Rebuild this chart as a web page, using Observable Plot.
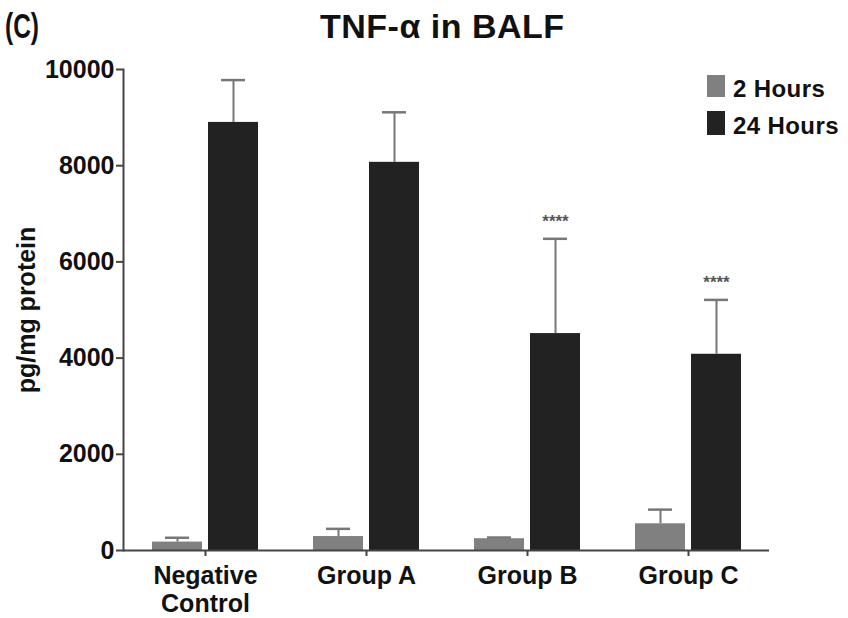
<!DOCTYPE html>
<html>
<head>
<meta charset="utf-8">
<script src="https://cdn.jsdelivr.net/npm/d3@7"></script>
<script src="https://cdn.jsdelivr.net/npm/@observablehq/plot@0.6"></script>
<style>
  html, body { margin: 0; padding: 0; background: #fff; }
  #wrap { position: relative; width: 848px; height: 618px; font-family: "Liberation Sans", Arial, sans-serif; font-weight: bold; color: #111; overflow: hidden; }
  #head { position: relative; height: 55px; }
  .abs { position: absolute; white-space: nowrap; }
  #panel { left: 5px; top: 8px; font-size: 35px; line-height: 35px; transform: scaleX(0.7); transform-origin: left top; }
  #title { left: 320px; top: 9px; font-size: 34px; line-height: 34px; letter-spacing: 0.5px; }
  .sw { position: absolute; width: 18px; }
  .lg { font-size: 24px; line-height: 24px; letter-spacing: 0.4px; }
</style>
</head>
<body>
<div id="wrap">
  <div id="head">
    <div id="panel" class="abs">(C)</div>
    <div id="title" class="abs">TNF-α in BALF</div>
  </div>
  <div id="chart"></div>
  <div class="sw" style="left:707px; top:75px; height:22px; background:#808080;"></div>
  <div class="abs lg" style="left:733px; top:77px;">2 Hours</div>
  <div class="sw" style="left:707px; top:111px; height:24px; background:#222;"></div>
  <div class="abs lg" style="left:733px; top:114px;">24 Hours</div>
</div>
<script>
const categories = ["Negative\nControl", "Group A", "Group B", "Group C"];
const hours2 = [175, 290, 245, 555];
const hours2Err = [90, 160, 25, 295];
const hours24 = [8900, 8070, 4510, 4080];
const hours24Err = [880, 1040, 1970, 1130];
const significance = ["", "", "****", "****"];
const yTicks = [0, 2000, 4000, 6000, 8000, 10000];

const rows = categories.map((c, i) => ({
  cat: c,
  h2: hours2[i], h2top: hours2[i] + hours2Err[i],
  h24: hours24[i], h24top: hours24[i] + hours24Err[i],
  sig: significance[i]
}));

const chart = Plot.plot({
  width: 848,
  height: 563,
  marginLeft: 123,
  marginRight: 79,
  marginTop: 14,
  marginBottom: 68,
  style: {fontFamily: "'Liberation Sans', Arial, sans-serif", fontWeight: "bold", fontSize: "25px", color: "#111", background: "#fff", overflow: "visible"},
  x: {domain: categories, paddingInner: 0.344, paddingOuter: 0.172, label: null},
  y: {domain: [0, 10000], label: null},
  marks: [
    Plot.barY(rows, {x: "cat", y: "h2", fill: "#808080", insetRight: 56}),
    Plot.barY(rows, {x: "cat", y: "h24", fill: "#222222", insetLeft: 56}),
    Plot.ruleX(rows, {x: "cat", y1: "h2", y2: "h2top", dx: -28, stroke: "#777", strokeWidth: 2}),
    Plot.tickY(rows, {x: "cat", y: "h2top", insetLeft: 13, insetRight: 69, stroke: "#777", strokeWidth: 2.5}),
    Plot.ruleX(rows, {x: "cat", y1: "h24", y2: "h24top", dx: 28, stroke: "#777", strokeWidth: 2}),
    Plot.tickY(rows, {x: "cat", y: "h24top", insetLeft: 69, insetRight: 13, stroke: "#777", strokeWidth: 2.5}),
    Plot.text(rows.filter(d => d.sig), {x: "cat", y: "h24top", text: "sig", dx: 28, dy: -17, fontSize: 17, fill: "#555", fontWeight: "bold"}),
    Plot.axisY({ticks: yTicks, tickFormat: d => String(d), tickSize: 7, tickPadding: 2, stroke: "#444", strokeWidth: 2,
      label: "pg/mg protein", labelAnchor: "center", labelArrow: "none", labelOffset: 106}),
    Plot.axisX({tickSize: 6, tickPadding: 8, stroke: "#444", strokeWidth: 2, fontSize: 25, lineHeight: 1.1, label: null}),
    Plot.ruleY([0], {stroke: "#444", strokeWidth: 2}),
    Plot.frame({anchor: "left", stroke: "#444", strokeWidth: 2})
  ]
});
document.getElementById("chart").appendChild(chart);
</script>
</body>
</html>
